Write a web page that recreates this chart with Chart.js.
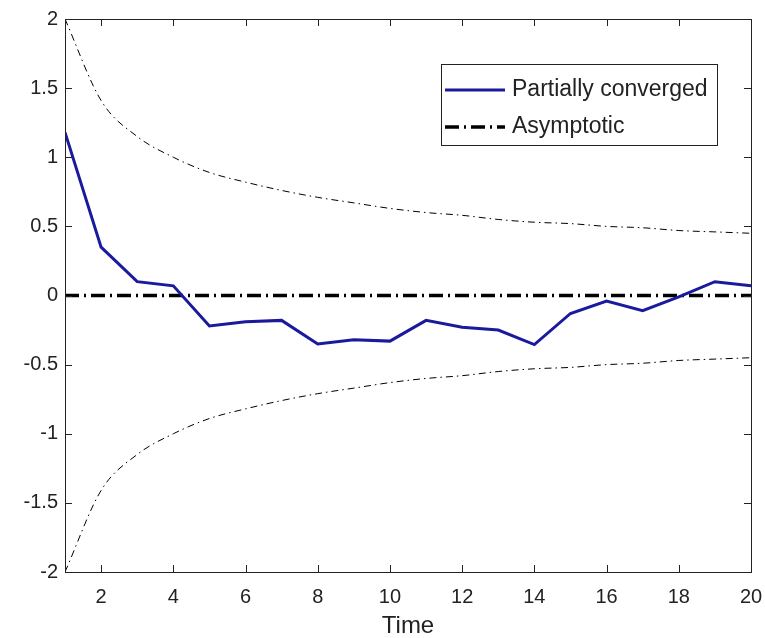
<!DOCTYPE html>
<html>
<head>
<meta charset="utf-8">
<script src="https://cdn.jsdelivr.net/npm/chart.js@4/dist/chart.umd.min.js"></script>
<style>
html,body{margin:0;padding:0;background:#fff;}
canvas{display:block;}
</style>
</head>
<body>
<canvas id="c" width="765" height="638"></canvas>
<script>
const timePoints = [1,2,3,4,5,6,7,8,9,10,11,12,13,14,15,16,17,18,19,20];
const partiallyConverged = [1.18,0.35,0.1,0.07,-0.22,-0.19,-0.18,-0.35,-0.32,-0.33,-0.18,-0.23,-0.25,-0.355,-0.13,-0.04,-0.11,-0.01,0.1,0.07];
const upperBound = [2.0,1.41,1.15,1.0,0.89,0.82,0.76,0.71,0.67,0.63,0.6,0.58,0.55,0.53,0.52,0.5,0.49,0.47,0.46,0.45];
const lowerBound = [-2.0,-1.41,-1.15,-1.0,-0.89,-0.82,-0.76,-0.71,-0.67,-0.63,-0.6,-0.58,-0.55,-0.53,-0.52,-0.5,-0.49,-0.47,-0.46,-0.45];
const zeroLineX = [1,20];
const zeroLineY = [0,0];
const xTicks = [2,4,6,8,10,12,14,16,18,20];
const yTicks = [-2,-1.5,-1,-0.5,0,0.5,1,1.5,2];
const legendLabels = ['Partially converged','Asymptotic'];

const FONT = "'Liberation Sans', Arial, Helvetica, sans-serif";
const BLUE = '#1a1a9c';
const INK = '#222222';

function pts(xs, ys){ return xs.map((x,i)=>({x:x, y:ys[i]})); }

const frameAndLegend = {
  id: 'frameAndLegend',
  afterDraw(chart){
    const ctx = chart.ctx;
    const a = chart.chartArea;
    const xs = chart.scales.x, ys = chart.scales.y;
    ctx.save();
    ctx.strokeStyle = INK;
    ctx.lineWidth = 1;
    ctx.setLineDash([]);
    ctx.strokeRect(Math.round(a.left)+0.5, Math.round(a.top)+0.5, Math.round(a.right-a.left), Math.round(a.bottom-a.top));
    const tl = 7;
    ctx.beginPath();
    xs.ticks.forEach(t=>{
      const px = Math.round(xs.getPixelForValue(t.value))+0.5;
      ctx.moveTo(px, a.bottom); ctx.lineTo(px, a.bottom - tl);
      ctx.moveTo(px, a.top); ctx.lineTo(px, a.top + tl);
    });
    ys.ticks.forEach(t=>{
      const py = Math.round(ys.getPixelForValue(t.value))+0.5;
      ctx.moveTo(a.left, py); ctx.lineTo(a.left + tl, py);
      ctx.moveTo(a.right, py); ctx.lineTo(a.right - tl, py);
    });
    ctx.stroke();

    // legend box
    const lx = 441, ly = 64, lw = 276, lh = 81;
    ctx.fillStyle = '#fff';
    ctx.fillRect(lx, ly, lw, lh);
    ctx.strokeStyle = INK;
    ctx.lineWidth = 1;
    ctx.strokeRect(lx+0.5, ly+0.5, lw, lh);
    const ds = chart.data.datasets;
    const rows = [{ds: ds[0], y: 90}, {ds: ds[1], y: 127}];
    rows.forEach((r,i)=>{
      ctx.save();
      ctx.strokeStyle = r.ds.borderColor;
      ctx.lineWidth = r.ds.borderWidth;
      ctx.setLineDash(r.ds.borderDash || []);
      ctx.beginPath();
      ctx.moveTo(445, r.y); ctx.lineTo(505, r.y);
      ctx.stroke();
      ctx.restore();
      ctx.fillStyle = INK;
      ctx.font = '23px ' + FONT;
      ctx.textBaseline = 'middle';
      ctx.textAlign = 'left';
      ctx.fillText(legendLabels[i], 512, r.y);
    });
    ctx.restore();
  }
};

new Chart(document.getElementById('c'), {
  type: 'line',
  data: {
    datasets: [
      { label: legendLabels[0], data: pts(timePoints, partiallyConverged), borderColor: BLUE, borderWidth: 3, pointRadius: 0, tension: 0, fill: false },
      { label: legendLabels[1], data: pts(zeroLineX, zeroLineY), borderColor: '#000', borderWidth: 3.5, borderDash: [14,5,2,5], pointRadius: 0, fill: false },
      { label: 'upper', data: pts(timePoints, upperBound), borderColor: '#000', borderWidth: 1, borderDash: [7,4,1.5,4], pointRadius: 0, cubicInterpolationMode: 'monotone', fill: false },
      { label: 'lower', data: pts(timePoints, lowerBound), borderColor: '#000', borderWidth: 1, borderDash: [7,4,1.5,4], pointRadius: 0, cubicInterpolationMode: 'monotone', fill: false }
    ]
  },
  options: {
    responsive: false,
    devicePixelRatio: 1,
    animation: false,
    layout: { padding: { top: 19, right: 14, left: 0, bottom: 0 } },
    plugins: { legend: { display: false }, tooltip: { enabled: false } },
    scales: {
      x: {
        type: 'linear', min: 1, max: 20,
        afterBuildTicks: s => { s.ticks = xTicks.map(v => ({ value: v })); },
        afterFit: s => { s.height = 66; s.paddingLeft = 0; s.paddingRight = 0; },
        grid: { display: false, drawTicks: false },
        border: { display: false },
        ticks: { color: INK, font: { family: FONT, size: 20 }, padding: 13, maxRotation: 0, autoSkip: false, callback: v => String(v) },
        title: { display: true, text: 'Time', color: INK, font: { family: FONT, size: 24 }, padding: { top: 0, bottom: -3 } }
      },
      y: {
        type: 'linear', min: -2, max: 2,
        afterBuildTicks: s => { s.ticks = yTicks.map(v => ({ value: v })); },
        afterFit: s => { s.width = 65; s.paddingTop = 0; s.paddingBottom = 0; },
        grid: { display: false, drawTicks: false },
        border: { display: false },
        ticks: { color: INK, font: { family: FONT, size: 20 }, padding: 7, autoSkip: false, callback: v => String(v) }
      }
    }
  },
  plugins: [frameAndLegend]
});
</script>
</body>
</html>
